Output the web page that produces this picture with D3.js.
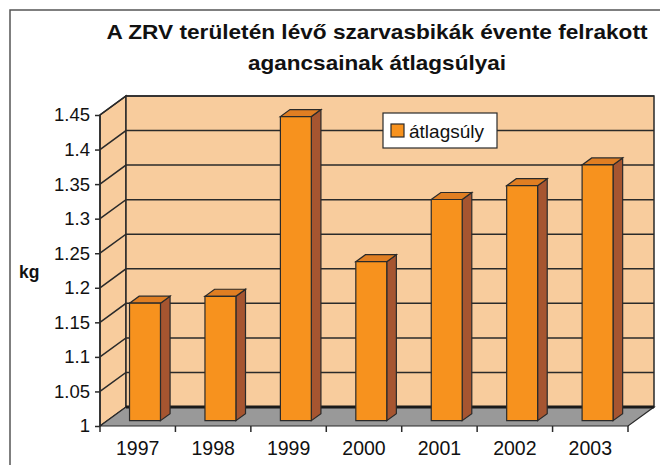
<!DOCTYPE html>
<html>
<head>
<meta charset="utf-8">
<script src="https://cdn.jsdelivr.net/npm/d3@7"></script>
<style>
  body { margin: 0; background: #fff; }
  svg { display: block; font-family: Arial, "Liberation Sans", sans-serif; }
</style>
</head>
<body>
<svg id="chart" width="660" height="465"></svg>
<script>
// data
var years = ['1997', '1998', '1999', '2000', '2001', '2002', '2003'];
var atlagsuly = [1.17, 1.18, 1.44, 1.23, 1.32, 1.34, 1.37];
var yTicks = [1, 1.05, 1.1, 1.15, 1.2, 1.25, 1.3, 1.35, 1.4, 1.45];
var titleLines = ['A ZRV területén lévő szarvasbikák évente felrakott', 'agancsainak átlagsúlyai'];
var titleWidths = [541, 258];
var seriesName = 'átlagsúly';
var yLabel = 'kg';

var svg = d3.select('#chart');

var DX = 26, DY = 19;   // depth offset of the back wall
var x = d3.scaleBand().domain(years).range([100, 628]);
var y = d3.scaleLinear().domain([1, 1.45]).range([426, 115]);

function pt(px, py, z) {
    return [px + z * DX, py - z * DY];
}
function poly(points) {
    return 'M' + points.map(function(p){ return p[0] + ',' + p[1]; }).join('L') + 'Z';
}

var wallFill = '#f8cc9d', lineCol = '#2a2a2a';
var x0 = x.range()[0], x1 = x.range()[1];
var yb = y(1), yt = y(1.45);

// outer frame
svg.append('rect')
    .attr('x', 10).attr('y', 10).attr('width', 700).attr('height', 500)
    .attr('fill', 'none').attr('stroke', '#555').attr('stroke-width', 1.5);

// left side wall
svg.append('path')
    .attr('d', poly([pt(x0, yb, 0), pt(x0, yt, 0), pt(x0, yt, 1), pt(x0, yb, 1)]))
    .attr('fill', wallFill).attr('stroke', lineCol).attr('stroke-width', 1.5);

// back wall
svg.append('path')
    .attr('d', poly([pt(x0, yb, 1), pt(x0, yt, 1), pt(x1, yt, 1), pt(x1, yb, 1)]))
    .attr('fill', wallFill).attr('stroke', lineCol).attr('stroke-width', 1.5);

// gridlines: side wall and back wall
var grid = svg.append('g').attr('stroke', lineCol).attr('stroke-width', 1.5);
yTicks.slice(1).forEach(function(v) {
    var a = pt(x0, y(v), 0), b = pt(x0, y(v), 1), c = pt(x1, y(v), 1);
    grid.append('path').attr('fill', 'none').attr('d', 'M' + a + 'L' + b + 'L' + c);
});

// floor
svg.append('path')
    .attr('d', poly([pt(x0, yb, 0), pt(x1, yb, 0), pt(x1, yb, 1), pt(x0, yb, 1)]))
    .attr('fill', '#999999').attr('stroke', lineCol).attr('stroke-width', 1.2);
svg.append('line')
    .attr('x1', pt(x0, yb, 1)[0]).attr('y1', pt(x0, yb, 1)[1])
    .attr('x2', pt(x1, yb, 1)[0]).attr('y2', pt(x1, yb, 1)[1])
    .attr('stroke', '#1a1a1a').attr('stroke-width', 3);

// y axis
svg.append('line')
    .attr('x1', x0).attr('y1', yb).attr('x2', x0).attr('y2', yt)
    .attr('stroke', lineCol).attr('stroke-width', 1.5);
var yAxis = svg.append('g').attr('transform', 'translate(' + x0 + ',0)')
    .call(d3.axisLeft(y).tickValues(yTicks).tickSize(5).tickSizeOuter(0)
        .tickFormat(function(d){ return String(d); }));
yAxis.select('.domain').remove();
yAxis.selectAll('line').attr('stroke', lineCol).attr('stroke-width', 1.5);
yAxis.selectAll('text').attr('font-size', 18.5).attr('fill', '#111')
    .attr('font-family', 'Arial, "Liberation Sans", sans-serif').attr('dx', -2);

// x axis
var xAxis = svg.append('g').attr('transform', 'translate(0,' + yb + ')')
    .call(d3.axisBottom(x).tickSize(0).tickPadding(15));
xAxis.select('.domain').remove();
xAxis.selectAll('text').attr('font-size', 19.5).attr('fill', '#111')
    .attr('font-family', 'Arial, "Liberation Sans", sans-serif');
svg.append('g').selectAll('line')
    .data(years.concat(['end']))
    .enter().append('line')
    .attr('x1', function(d, i){ return x0 + i * x.bandwidth(); })
    .attr('x2', function(d, i){ return x0 + i * x.bandwidth(); })
    .attr('y1', yb).attr('y2', yb + 6)
    .attr('stroke', lineCol).attr('stroke-width', 1.5);

// bars
var barW = x.bandwidth() * 0.41, zf = 0.28, zb = 0.65;
var bars = svg.append('g').attr('stroke', lineCol).attr('stroke-width', 1.2)
    .selectAll('g').data(years).enter().append('g');
bars.each(function(d, i) {
    var g = d3.select(this);
    var l = x(d) + (x.bandwidth() - barW) / 2, r = l + barW;
    var top = y(atlagsuly[i]);
    g.append('path')   // side
        .attr('fill', '#a65530')
        .attr('d', poly([pt(r, yb, zf), pt(r, top, zf), pt(r, top, zb), pt(r, yb, zb)]));
    g.append('path')   // top
        .attr('fill', '#e07e22')
        .attr('d', poly([pt(l, top, zf), pt(r, top, zf), pt(r, top, zb), pt(l, top, zb)]));
    g.append('path')   // front
        .attr('fill', '#f7921e')
        .attr('d', poly([pt(l, yb, zf), pt(l, top, zf), pt(r, top, zf), pt(r, yb, zf)]));
});

// legend
var leg = svg.append('g').attr('transform', 'translate(383,113)');
leg.append('rect').attr('width', 114).attr('height', 35)
    .attr('fill', '#fff').attr('stroke', lineCol).attr('stroke-width', 1.2);
leg.append('rect').attr('x', 8).attr('y', 11).attr('width', 13).attr('height', 13)
    .attr('fill', '#f7921e').attr('stroke', lineCol).attr('stroke-width', 1.2);
leg.append('text').attr('x', 26).attr('y', 25).attr('font-size', 19).attr('fill', '#111')
    .text(seriesName);

// y label
svg.append('text').attr('x', 19).attr('y', 278).attr('font-size', 17.5)
    .attr('font-weight', 'bold').attr('fill', '#111').text(yLabel);

// title
svg.append('g').selectAll('text').data(titleLines).enter().append('text')
    .attr('x', 377).attr('y', function(d, i){ return 39 + i * 31; })
    .attr('text-anchor', 'middle').attr('font-size', 20.5).attr('font-weight', 'bold')
    .attr('textLength', function(d, i){ return titleWidths[i]; })
    .attr('lengthAdjust', 'spacingAndGlyphs')
    .attr('fill', '#111').text(function(d){ return d; });
</script>
</body>
</html>
